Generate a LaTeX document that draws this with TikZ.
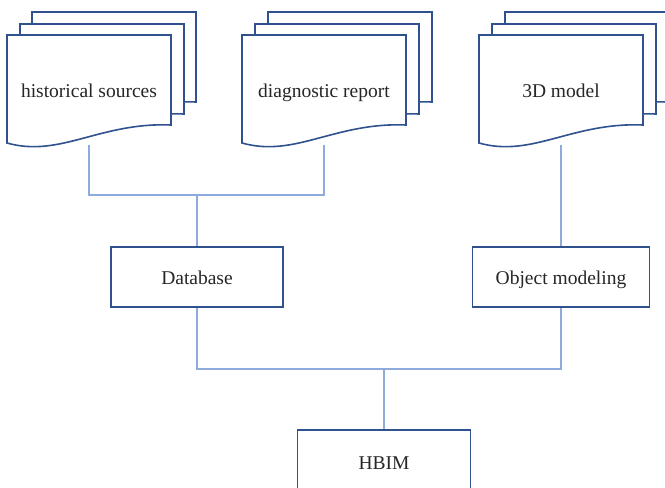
\documentclass[tikz,border=0pt]{standalone}
\usepackage{fontspec}
\setmainfont{Liberation Serif}
\usepackage{xcolor}
\usepackage{tikz}
\usetikzlibrary{positioning}

\definecolor{edgeblue}{HTML}{2F528F}
\definecolor{lineblue}{HTML}{8FAADC}
\definecolor{textgray}{HTML}{262626}

% one sheet of a document stack, top-left corner given
\newcommand{\docpage}[2]{%
    \draw[page,shift={(#1,#2)}] (0,0) -- (164,0) -- (164,90)
        .. controls (93,87) and (53,123) .. (0,108) -- cycle;}

\begin{document}
\begin{tikzpicture}[
    x=1pt, y=-1pt,
    font=\fontsize{19.5}{23}\selectfont\color{textgray},
    every node/.style={text height=17pt, text depth=2.5pt},
    page/.style={draw=edgeblue, line width=1.6pt, fill=white, line join=miter},
    doctext/.style={minimum width=164pt, minimum height=110pt, inner sep=0pt},
    box/.style={draw=edgeblue, line width=1.6pt, fill=white, minimum height=60pt, align=center},
    link/.style={draw=lineblue, line width=1.4pt}
]
    \useasboundingbox (0,0) rectangle (665,488);

    % document stacks
    \docpage{32}{12} \docpage{20}{24} \docpage{7}{35}
    \docpage{268}{12} \docpage{255}{24} \docpage{242}{35}
    \docpage{505}{12} \docpage{492}{24} \docpage{479}{35}

    \node[doctext] (hs) at (89,90) {historical sources};
    \node[doctext] (dr) at (324,90) {diagnostic report};
    \node[doctext] (m3) at (561,90) {3D model};

    % process boxes
    \node[box, minimum width=172pt] (db) at (197,277) {Database};
    \node[box, minimum width=177pt] (om) at (561,277) {Object modeling};
    \node[box, minimum width=173pt, minimum height=64pt] (hbim) at (384,462) {HBIM};

    \coordinate (j1) at (197,195);
    \coordinate (j2) at (384,369);

    % connectors
    \draw[link] (hs.south) |- (j1) -| (dr.south);
    \draw[link] (j1) -- (db);
    \draw[link] (m3.south) -- (om);
    \draw[link] (db.south) |- (j2) -| (om.south);
    \draw[link] (j2) -- (hbim);
\end{tikzpicture}
\end{document}
